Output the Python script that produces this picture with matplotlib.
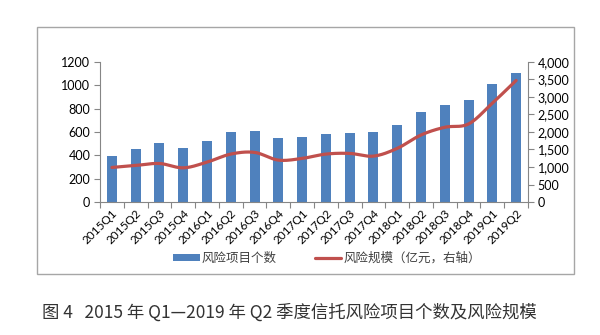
import matplotlib
matplotlib.use('Agg')
import matplotlib.pyplot as plt
import numpy as np
from matplotlib.patches import Rectangle

plt.rcParams['font.family'] = ['Noto Sans CJK SC', 'DejaVu Sans']
plt.rcParams['axes.unicode_minus'] = False

# ---- 数据 ----
quarters = ['2015Q1', '2015Q2', '2015Q3', '2015Q4',
            '2016Q1', '2016Q2', '2016Q3', '2016Q4',
            '2017Q1', '2017Q2', '2017Q3', '2017Q4',
            '2018Q1', '2018Q2', '2018Q3', '2018Q4',
            '2019Q1', '2019Q2']
risk_count = [397, 452, 509, 463, 526, 603, 605, 546, 560,
              580, 592, 600, 658, 775, 830, 870, 1007, 1102]
risk_scale = [987, 1044, 1100, 976, 1139, 1369, 1417, 1197, 1245,
              1369, 1388, 1311, 1532, 1914, 2135, 2230, 2823, 3472]
left_ticks = [0, 200, 400, 600, 800, 1000, 1200]
right_ticks = [0, 500, 1000, 1500, 2000, 2500, 3000, 3500, 4000]

BAR_COLOR = '#4F81BD'
LINE_COLOR = '#C0504D'
AXIS_COLOR = '#868686'


def smooth(x, y, n=20):
    # Catmull-Rom 平滑，仿 Excel 的平滑线
    x = np.asarray(x, float)
    y = np.asarray(y, float)
    px = np.concatenate([[2 * x[0] - x[1]], x, [2 * x[-1] - x[-2]]])
    py = np.concatenate([[2 * y[0] - y[1]], y, [2 * y[-1] - y[-2]]])
    xs, ys = [], []
    t = np.linspace(0, 1, n, endpoint=False)
    for i in range(1, len(px) - 2):
        for p, out in ((px, xs), (py, ys)):
            p0, p1, p2, p3 = p[i - 1], p[i], p[i + 1], p[i + 2]
            out.append(0.5 * (2 * p1 + (-p0 + p2) * t
                              + (2 * p0 - 5 * p1 + 4 * p2 - p3) * t ** 2
                              + (-p0 + 3 * p1 - 3 * p2 + p3) * t ** 3))
    xs.append([x[-1]])
    ys.append([y[-1]])
    return np.concatenate(xs), np.concatenate(ys)


fig = plt.figure(figsize=(6, 3.35), dpi=100)
fig.patches.append(Rectangle((0.062, 0.182), 0.895, 0.737, transform=fig.transFigure,
                             fill=False, edgecolor='#A6A6A6', linewidth=1.0))

ax = fig.add_axes([0.1667, 0.397, 0.7133, 0.418])
x = np.arange(len(quarters))
bars = ax.bar(x, risk_count, width=0.42, color=BAR_COLOR, zorder=2, label='风险项目个数')
ax.set_xlim(-0.5, len(quarters) - 0.5)
ax.set_ylim(0, 1200)
ax.set_yticks(left_ticks)
ax.set_yticklabels([str(v) for v in left_ticks], fontsize=9, family='Lato')

ax.set_xticks(np.arange(-0.5, len(quarters), 1))
ax.set_xticklabels([])
ax.set_xticks(x, minor=True)
ax.set_xticklabels(quarters, minor=True, rotation=45, ha='right', va='top',
                   rotation_mode='anchor', fontsize=8.5, family='Lato')
ax.tick_params(axis='x', which='minor', length=0, pad=4)
ax.tick_params(axis='x', which='major', length=4, color=AXIS_COLOR)
ax.tick_params(axis='y', length=4, color=AXIS_COLOR, pad=3)

for s in ['top', 'right']:
    ax.spines[s].set_visible(False)
for s in ['left', 'bottom']:
    ax.spines[s].set_color(AXIS_COLOR)

ax2 = ax.twinx()
sx, sy = smooth(x, risk_scale)
line, = ax2.plot(sx, sy, color=LINE_COLOR, linewidth=2.3, zorder=3,
                 solid_capstyle='round', label='风险规模（亿元，右轴）')
ax2.set_ylim(0, 4000)
ax2.set_yticks(right_ticks)
ax2.set_yticklabels([f'{v:,}' for v in right_ticks], fontsize=9, family='Lato')
ax2.tick_params(axis='y', length=4, color=AXIS_COLOR, pad=3)
for s in ['top', 'left', 'bottom']:
    ax2.spines[s].set_visible(False)
ax2.spines['right'].set_color(AXIS_COLOR)

fig.legend([bars, line], ['风险项目个数', '风险规模（亿元，右轴）'],
           loc='center', bbox_to_anchor=(0.545, 0.228), ncol=2, frameon=False,
           fontsize=9, handlelength=2.1, handleheight=0.5, columnspacing=3.0,
           handletextpad=0.2, labelcolor='#404040')

fig.text(0.07, 0.068, '图 4   2015 年 Q1—2019 年 Q2 季度信托风险项目个数及风险规模',
         fontsize=12.5, color='#333333', ha='left', va='center')

fig.savefig('out.png', dpi=100)
